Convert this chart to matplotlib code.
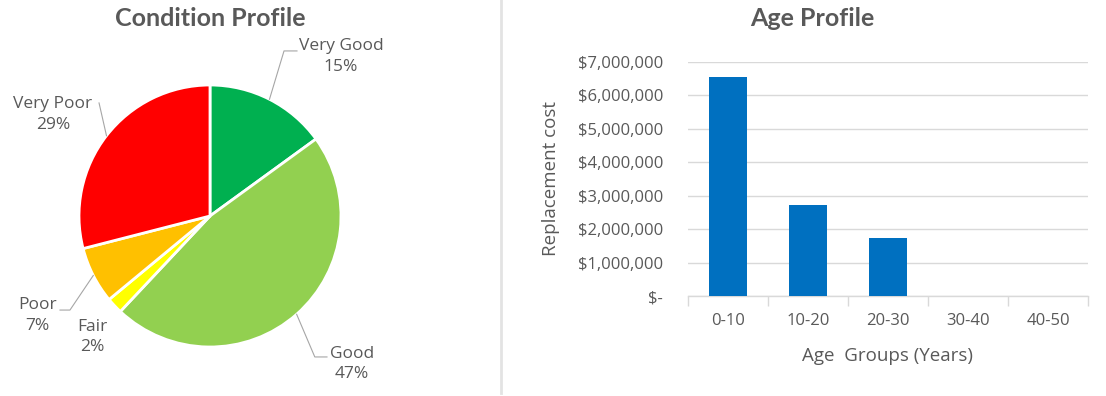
import matplotlib
matplotlib.use("Agg")
import matplotlib.pyplot as plt
import numpy as np
from matplotlib.ticker import FuncFormatter, MultipleLocator

# condition profile (share of assets, %)
conditions = ["Very Good", "Good", "Fair", "Poor", "Very Poor"]
condition_pct = [15, 47, 2, 7, 29]
condition_colors = ["#00B050", "#92D050", "#FFFF00", "#FFC000", "#FF0000"]

# age profile (replacement cost, $)
age_groups = ["0-10", "10-20", "20-30", "30-40", "40-50"]
replacement_cost = [6_550_000, 2_730_000, 1_750_000, 0, 0]

TEXT = "#595959"
GRID = "#D9D9D9"
LEADER = "#A6A6A6"
FONT = ["Open Sans", "DejaVu Sans"]
TITLE_FONT = ["Lato", "DejaVu Sans"]

plt.rcParams["font.family"] = FONT

W, H = 1106, 396
fig = plt.figure(figsize=(W / 100, H / 100), dpi=100)


def px_axes(left, top, right, bottom):
    return fig.add_axes([left / W, 1 - bottom / H, (right - left) / W, (bottom - top) / H])


# ---- pie ----
cx, cy, r = 210, 216, 131
ax = px_axes(cx - r, cy - r, cx + r, cy + r)
wedges, _ = ax.pie(condition_pct, colors=condition_colors, startangle=90,
                   counterclock=False, radius=1.0,
                   wedgeprops=dict(edgecolor="white", linewidth=2))
ax.set_xlim(-1, 1)
ax.set_ylim(-1, 1)
ax.set_aspect("equal")

# label block centre + leader elbow/end points, in pie radius units
label_layout = {
    "Very Good": dict(text=(1.0, 1.218), leader=[(0.565, 1.26), (0.664, 1.26)]),
    "Good": dict(text=(1.084, -1.13), leader=[(0.80, -1.076), (0.893, -1.076)]),
    "Fair": dict(text=(-0.90, -0.924), leader=None),
    "Poor": dict(text=(-1.32, -0.76), leader=[(-1.069, -0.718), (-1.145, -0.718)]),
    "Very Poor": dict(text=(-1.20, 0.775), leader=[(-0.847, 0.863)]),
}
for w, name, pct in zip(wedges, conditions, condition_pct):
    mid = np.deg2rad((w.theta1 + w.theta2) / 2)
    lay = label_layout[name]
    if lay["leader"]:
        pts = [(np.cos(mid), np.sin(mid))] + lay["leader"]
        xs, ys = zip(*pts)
        ax.plot(xs, ys, color=LEADER, lw=0.8, clip_on=False)
    tx, ty = lay["text"]
    ax.text(tx, ty, f"{name}\n{pct}%", ha="center", va="center",
            fontsize=12.5, color=TEXT, linespacing=1.35, clip_on=False)

fig.text(cx / W, 1 - 18 / H, "Condition Profile", ha="center", va="center",
         fontsize=18, fontweight="bold", color=TEXT, family=TITLE_FONT)

# separator between the two charts
fig.add_artist(plt.Line2D([501 / W, 501 / W], [3 / H, 1], color="#E3E3E3", lw=2))

# ---- bars ----
bx = px_axes(688, 62, 1088, 296)
x = np.arange(len(age_groups))
bx.bar(x, replacement_cost, width=0.47, color="#0070C0", zorder=3)
bx.set_xlim(-0.5, len(age_groups) - 0.5)
bx.set_ylim(0, 7_000_000)
bx.yaxis.set_major_locator(MultipleLocator(1_000_000))
bx.yaxis.set_major_formatter(FuncFormatter(
    lambda v, _: "$-" if v == 0 else f"${v:,.0f}"))
bx.grid(axis="y", color=GRID, lw=1, zorder=0)
for s in ("top", "right", "left"):
    bx.spines[s].set_visible(False)
bx.spines["bottom"].set_color(GRID)
bx.spines["bottom"].set_linewidth(1)
bx.set_xticks(x)
bx.set_xticklabels(age_groups)
bx.set_xticks(np.arange(len(age_groups) + 1) - 0.5, minor=True)
bx.tick_params(axis="x", which="major", length=0, pad=12, labelsize=12, labelcolor=TEXT)
bx.tick_params(axis="x", which="minor", length=7, color=GRID, width=1)
bx.tick_params(axis="y", length=0, pad=18, labelsize=12, labelcolor=TEXT)
bx.set_xlabel("Age  Groups (Years)", fontsize=13.5, color=TEXT, labelpad=13)
bx.set_ylabel("Replacement cost", fontsize=13.5, color=TEXT, labelpad=13)

fig.text(812 / W, 1 - 18 / H, "Age Profile", ha="center", va="center",
         fontsize=18, fontweight="bold", color=TEXT, family=TITLE_FONT)

fig.savefig("out.png", dpi=100)
